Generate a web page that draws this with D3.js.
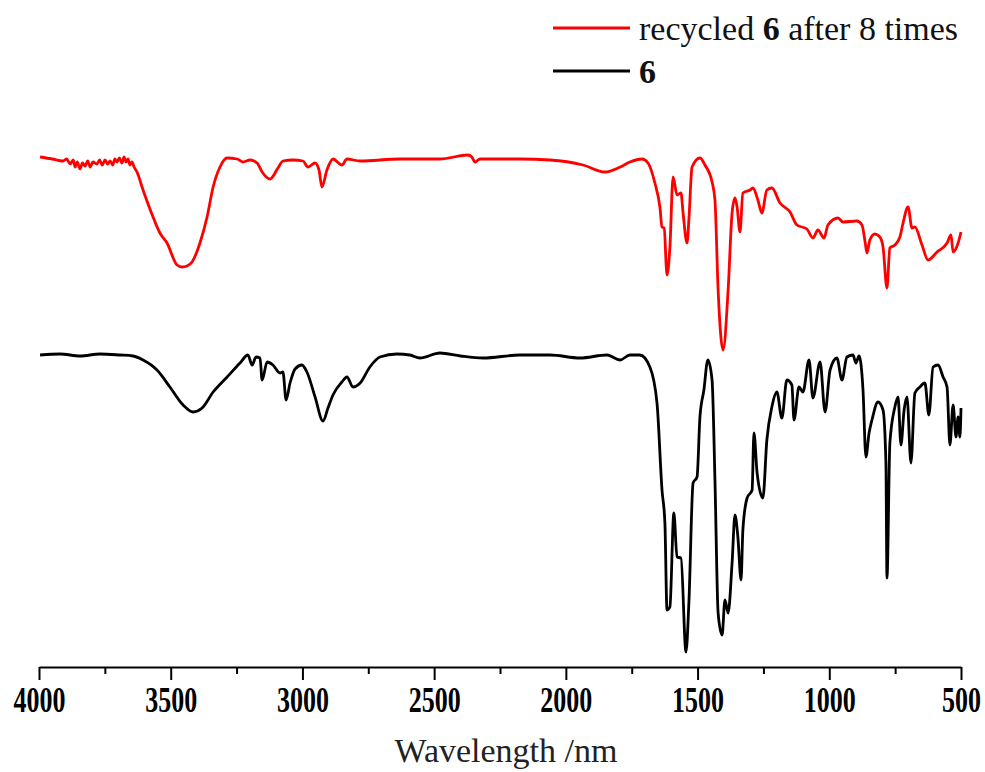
<!DOCTYPE html>
<html>
<head>
<meta charset="utf-8">
<script src="https://cdn.jsdelivr.net/npm/d3@7"></script>
<style>
  body { margin: 0; background: #fff; }
  text { font-family: "Liberation Serif", "Times New Roman", serif; }
</style>
</head>
<body>
<script>
// spectra (wavenumber, arbitrary signal, stacked)
const redWave = [3996,3950,3909,3895,3882,3870,3863,3855,3844,3835,3825,3815,3806,3795,3780,3770,3760,3749,3740,3730,3720,3712,3704,3695,3685,3677,3670,3662,3655,3647,3639,3628,3605,3567,3541,3514,3476,3457,3438,3419,3389,3362,3339,3313,3286,3248,3226,3199,3172,3153,3123,3093,3074,3036,2998,2979,2952,2937,2926,2907,2884,2850,2831,2781,2630,2478,2372,2357,2345,2326,2174,2060,1935,1851,1794,1757,1711,1688,1662,1643,1635,1627,1616,1605,1593,1578,1563,1555,1540,1533,1521,1491,1472,1445,1434,1422,1403,1384,1369,1358,1350,1339,1328,1301,1290,1271,1256,1237,1218,1187,1149,1123,1085,1062,1043,1020,1005,967,948,895,876,864,857,846,827,808,796,781,770,751,732,720,701,686,675,648,625,591,553,538,530,511,500];
const redSignal = [508,506,504,506,501,505,498,503,496,502,499,504,498,503,501,505,500,505,501,504,500,506,503,507,502,508,503,506,500,503,498,493,475,448,432,422,400,398,399,403,422,448,478,498,507,506,503,505,502,493,486,497,504,505,504,498,502,495,478,495,506,500,506,504,506,506,510,508,503,506,506,505,500,493,498,503,506,502,482,458,438,437,390,418,488,470,472,452,422,445,498,507,500,483,465,375,315,375,452,467,458,433,472,475,477,465,452,475,477,462,453,440,436,427,435,427,440,447,443,444,440,423,412,425,431,428,418,377,417,420,428,442,458,437,438,420,405,413,422,430,413,422,433];

const blackWave = [3996,3920,3844,3768,3693,3643,3605,3552,3503,3453,3415,3381,3339,3286,3237,3207,3191,3176,3161,3153,3134,3112,3085,3074,3062,3047,3028,3002,2983,2952,2922,2903,2884,2850,2831,2808,2781,2744,2706,2641,2592,2554,2478,2400,2315,2174,2060,1946,1844,1794,1757,1719,1681,1654,1635,1624,1616,1605,1590,1578,1563,1544,1533,1517,1502,1491,1476,1461,1445,1434,1422,1407,1396,1384,1369,1358,1347,1335,1328,1312,1293,1286,1274,1252,1237,1218,1199,1180,1161,1142,1134,1115,1100,1077,1062,1035,1016,997,971,952,933,910,899,887,872,861,849,838,815,796,785,781,770,751,739,728,716,705,690,675,656,637,622,606,587,568,553,542,530,519,511,504,500];
const blackSignal = [310,311,309,311,310,309,305,295,278,260,253,257,273,288,302,310,300,308,307,285,303,300,292,293,265,282,296,300,293,268,244,257,270,283,288,278,282,298,308,311,310,307,312,309,307,310,310,307,310,305,310,310,298,262,175,142,55,58,152,108,107,13,62,182,188,248,275,305,285,185,52,30,65,52,102,150,128,85,135,167,175,232,192,167,225,258,273,247,285,280,245,278,273,305,267,303,253,295,307,285,308,310,302,309,275,208,232,245,263,255,202,87,222,258,268,220,255,268,202,272,278,282,250,298,300,288,278,220,260,228,248,228,257];

const majorTicks = [4000,3500,3000,2500,2000,1500,1000,500];
const minorTicks = [3750,3250,2750,2250,1750,1250,750];

const series = [
  { name: "recycled", color: "#ff0000", wave: redWave, signal: redSignal },
  { name: "6", color: "#000000", wave: blackWave, signal: blackSignal }
];

const margin = { top: 65, left: 39 };
const width = 922;
const height = 602;

const x = d3.scaleLinear().domain([4000, 500]).range([0, width]);
const y = d3.scaleLinear().domain([-2, 600]).range([height, 0]);

const svg = d3.select("body").append("svg")
  .attr("width", 985)
  .attr("height", 772);

const g = svg.append("g")
  .attr("transform", `translate(${margin.left}, ${margin.top})`);

const line = d3.line()
  .x(d => x(d[0]))
  .y(d => y(d[1]))
  .curve(d3.curveMonotoneX);

series.forEach(s => {
  const pts = s.wave.map((w, i) => [w, s.signal[i]]);
  g.append("path")
    .datum(pts)
    .attr("fill", "none")
    .attr("stroke", s.color)
    .attr("stroke-width", 2.8)
    .attr("stroke-linejoin", "round")
    .attr("d", line);
});

// bottom axis: major ticks with labels, minor ticks without
const axis = g.append("g")
  .attr("transform", `translate(0, ${height})`)
  .call(d3.axisBottom(x).tickValues(majorTicks).tickSize(13).tickSizeOuter(0).tickFormat(d3.format("d")));

axis.select(".domain").attr("stroke", "#000").attr("stroke-width", 2);
axis.selectAll(".tick line").attr("stroke", "#000").attr("stroke-width", 2);
axis.selectAll(".tick text")
  .attr("y", 0)
  .attr("dy", 0)
  .attr("transform", "translate(0, 45) scale(1, 1.35)")
  .style("font-family", "'Liberation Serif', 'Times New Roman', serif")
  .style("font-size", "26px")
  .style("font-weight", "bold")
  .attr("fill", "#000");

const minor = g.append("g")
  .attr("transform", `translate(0, ${height})`)
  .call(d3.axisBottom(x).tickValues(minorTicks).tickSize(7).tickSizeOuter(0).tickFormat(""));
minor.select(".domain").remove();
minor.selectAll(".tick line").attr("stroke", "#000").attr("stroke-width", 2);

svg.append("text")
  .attr("x", 506)
  .attr("y", 762)
  .attr("text-anchor", "middle")
  .style("font-size", "34px")
  .attr("fill", "#222")
  .text("Wavelength /nm");

// legend
const legend = svg.append("g");
legend.append("line")
  .attr("x1", 553).attr("x2", 630).attr("y1", 28).attr("y2", 28)
  .attr("stroke", "#ff0000").attr("stroke-width", 3);
const t1 = legend.append("text")
  .attr("x", 639).attr("y", 40)
  .style("font-size", "34px")
  .attr("fill", "#111");
t1.append("tspan").text("recycled ");
t1.append("tspan").style("font-weight", "bold").text("6");
t1.append("tspan").text(" after 8 times");

legend.append("line")
  .attr("x1", 553).attr("x2", 630).attr("y1", 71).attr("y2", 71)
  .attr("stroke", "#000").attr("stroke-width", 3);
legend.append("text")
  .attr("x", 639).attr("y", 83)
  .style("font-size", "34px")
  .style("font-weight", "bold")
  .attr("fill", "#111")
  .text("6");
</script>
</body>
</html>
